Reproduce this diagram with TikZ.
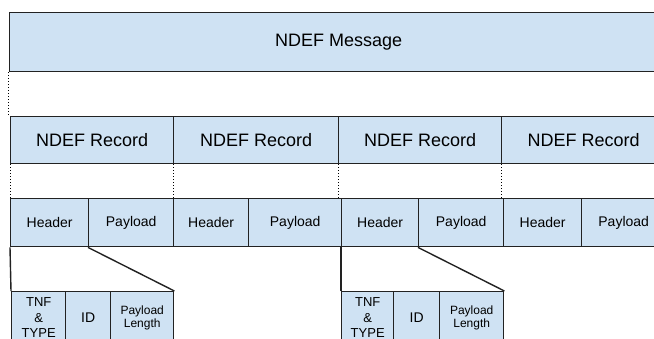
\documentclass[tikz,border=0pt]{standalone}
\usepackage{fontspec}
\setmainfont{Liberation Sans}
\usetikzlibrary{positioning}
\definecolor{ndefblue}{HTML}{CFE2F3}
\definecolor{edgegray}{HTML}{222222}

\begin{document}
\begin{tikzpicture}[x=1pt,y=-1pt]
  \tikzstyle{cell}=[draw=edgegray,fill=ndefblue,line width=1.4pt,anchor=north west,inner sep=0pt,align=center];
  \tikzstyle{msgbox}=[cell,font=\fontsize{18}{21}\selectfont,minimum height=59pt]
  \tikzstyle{recbox}=[cell,font=\fontsize{18}{21}\selectfont,minimum height=47pt]
  \tikzstyle{fieldbox}=[cell,font=\fontsize{14}{16}\selectfont,minimum height=48pt]
  \tikzstyle{subbox}=[cell,font=\fontsize{13}{15.5}\selectfont,minimum height=52pt]
  \tikzstyle{ed}=[draw=edgegray,line width=1.4pt]
  \tikzstyle{dots}=[draw=black,line width=0.9pt,dash pattern=on 0.9pt off 2.1pt]
  \useasboundingbox (0,0) rectangle (654,338);
  % message
  \node [msgbox,minimum width=659pt] (msg) at (8.5,12) {NDEF Message};
  % records
  \node [recbox,minimum width=163pt] (rec1) at (10,116) {NDEF Record};
  \node [recbox,minimum width=165pt] (rec2) at (173,116) {NDEF Record};
  \node [recbox,minimum width=163pt] (rec3) at (338,116) {NDEF Record};
  \node [recbox,minimum width=164pt] (rec4) at (501,116) {NDEF Record};
  % header / payload
  \node [fieldbox,minimum width=78pt] (hd1) at (10,198) {Header};
  \node [fieldbox,minimum width=85pt] (pl1) at (88,198) {Payload};
  \node [fieldbox,minimum width=75pt] (hd2) at (173,198) {Header};
  \node [fieldbox,minimum width=93pt] (pl2) at (248,198) {Payload};
  \node [fieldbox,minimum width=77pt] (hd3) at (341,198) {Header};
  \node [fieldbox,minimum width=85pt] (pl3) at (418,198) {Payload};
  \node [fieldbox,minimum width=78pt] (hd4) at (503,198) {Header};
  \node [fieldbox,minimum width=84pt] (pl4) at (581,198) {Payload};
  % header fields
  \node [subbox,minimum width=54pt] (tnf1) at (11,291) {TNF\\\&\\TYPE};
  \node [subbox,minimum width=45pt,font=\fontsize{14}{16}\selectfont] (id1) at (65,291) {ID};
  \node [subbox,minimum width=63pt,font=\fontsize{12}{13.5}\selectfont] (len1) at (110,291) {Payload\\Length};
  \node [subbox,minimum width=52pt] (tnf2) at (341,291) {TNF\\\&\\TYPE};
  \node [subbox,minimum width=46pt,font=\fontsize{14}{16}\selectfont] (id2) at (393,291) {ID};
  \node [subbox,minimum width=64pt,font=\fontsize{12}{13.5}\selectfont] (len2) at (439,291) {Payload\\Length};
  % dotted guides
  \draw [dots] (msg.south west) -- (msg.south west |- rec1.north);
  \draw [dots] (rec1.south west) -- (rec1.south west |- hd1.north);
  \draw [dots] (rec2.south west) -- (rec2.south west |- hd2.north);
  \draw [dots] (rec3.south west) -- (rec3.south west |- hd3.north);
  \draw [dots] (rec4.south west) -- (rec4.south west |- hd4.north);
  % zoom lines
  \draw [ed] (hd1.south west) -- (tnf1.north west);
  \draw [ed] (pl1.south west) -- (len1.north east);
  \draw [ed] (hd3.south west) -- (hd3.south west |- tnf2.north);
  \draw [ed] (pl3.south west) -- (len2.north east);
\end{tikzpicture}
\end{document}
